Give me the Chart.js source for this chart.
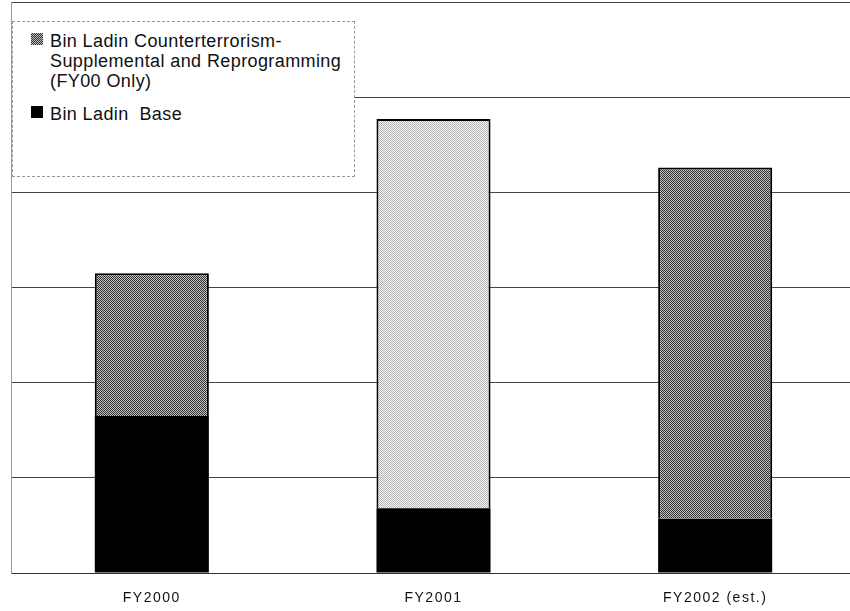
<!DOCTYPE html>
<html>
<head>
<meta charset="utf-8">
<script src="https://cdn.jsdelivr.net/npm/chart.js@4/dist/chart.umd.min.js"></script>
<style>
  html, body { margin: 0; padding: 0; background: #fff; overflow: hidden; }
  #wrap { position: relative; width: 856px; height: 611px; }
  #legend {
    position: absolute; left: 12px; top: 21px; width: 343px; height: 156px;
    box-sizing: border-box; border: 1px dashed #999; background: #fff;
    padding: 9px 0 0 18px;
    font-family: 'Liberation Sans', Arial, sans-serif; font-size: 18px; line-height: 20px;
    letter-spacing: 0.4px; color: #111;
  }
  .item { display: flex; align-items: flex-start; margin-bottom: 13px; }
  .mark { width: 12px; height: 12px; margin: 2px 7px 0 0; flex: none; }
  .txt { white-space: pre; }
</style>
</head>
<body>
<div id="wrap">
  <canvas id="chart" width="856" height="611"></canvas>
  <div id="legend"></div>
</div>
<script>
// ========== DATA ==========
const categories = ['FY2000', 'FY2001', 'FY2002 (est.)'];
const baseValues = [1.65, 0.68, 0.57];
const supplementalValues = [1.50, 4.09, 3.69];
const yMax = 6;
const yStep = 1;

const supplementalLabel = 'Bin Ladin Counterterrorism-\nSupplemental and Reprogramming\n(FY00 Only)';
const baseLabel = 'Bin Ladin  Base';

// ========== PATTERNS ==========
function makePattern(a, b) {
    const c = document.createElement('canvas');
    c.width = 2; c.height = 2;
    const g = c.getContext('2d');
    g.fillStyle = b; g.fillRect(0, 0, 2, 2);
    g.fillStyle = a; g.fillRect(0, 0, 1, 1); g.fillRect(1, 1, 1, 1);
    return g.createPattern(c, 'repeat');
}
const ctx = document.getElementById('chart').getContext('2d');
const darkFill = makePattern('#333', '#c0c0c0');
const lightFill = makePattern('#b4b4b4', '#f6f6f6');

// ========== LEGEND ==========
const legendItems = [
    { text: supplementalLabel, css: 'repeating-conic-gradient(#333 0 25%, #bbb 0 50%) 0 0/2px 2px' },
    { text: baseLabel, css: '#000' }
];
document.getElementById('legend').innerHTML = legendItems.map(it => `
    <div class="item"><span class="mark" style="background:${it.css}"></span><span class="txt">${it.text}</span></div>
`).join('');

// ========== CHART ==========
const spacing = {
    id: 'spacing',
    beforeDraw(chart) { chart.ctx.letterSpacing = '1.5px'; }
};

new Chart(ctx, {
    type: 'bar',
    data: {
        labels: categories,
        datasets: [{
            label: baseLabel,
            data: baseValues,
            backgroundColor: '#000',
            borderColor: '#000',
            borderWidth: 0
        }, {
            label: supplementalLabel,
            data: supplementalValues,
            backgroundColor: [darkFill, lightFill, darkFill],
            borderColor: '#000',
            borderWidth: { top: 2, left: 2, right: 2, bottom: 0 },
            borderSkipped: false
        }]
    },
    options: {
        responsive: false,
        animation: false,
        devicePixelRatio: 1,
        layout: { padding: { left: 11, top: 2, right: 0, bottom: 0 } },
        datasets: { bar: { categoryPercentage: 1, barPercentage: 0.405 } },
        plugins: { legend: { display: false }, tooltip: { enabled: false } },
        scales: {
            x: {
                stacked: true,
                grid: { display: false, drawTicks: false },
                border: { display: true, color: '#333', width: 1 },
                ticks: {
                    color: '#111',
                    padding: 17,
                    font: { family: "'Liberation Sans', Arial, sans-serif", size: 14 }
                },
                afterFit(scale) { scale.height = 38; }
            },
            y: {
                stacked: true,
                min: 0,
                max: yMax,
                grid: { color: '#444', lineWidth: 1, drawTicks: false },
                border: { display: true, color: '#999', width: 1 },
                ticks: { display: false, stepSize: yStep }
            }
        }
    },
    plugins: [spacing]
});
</script>
</body>
</html>
